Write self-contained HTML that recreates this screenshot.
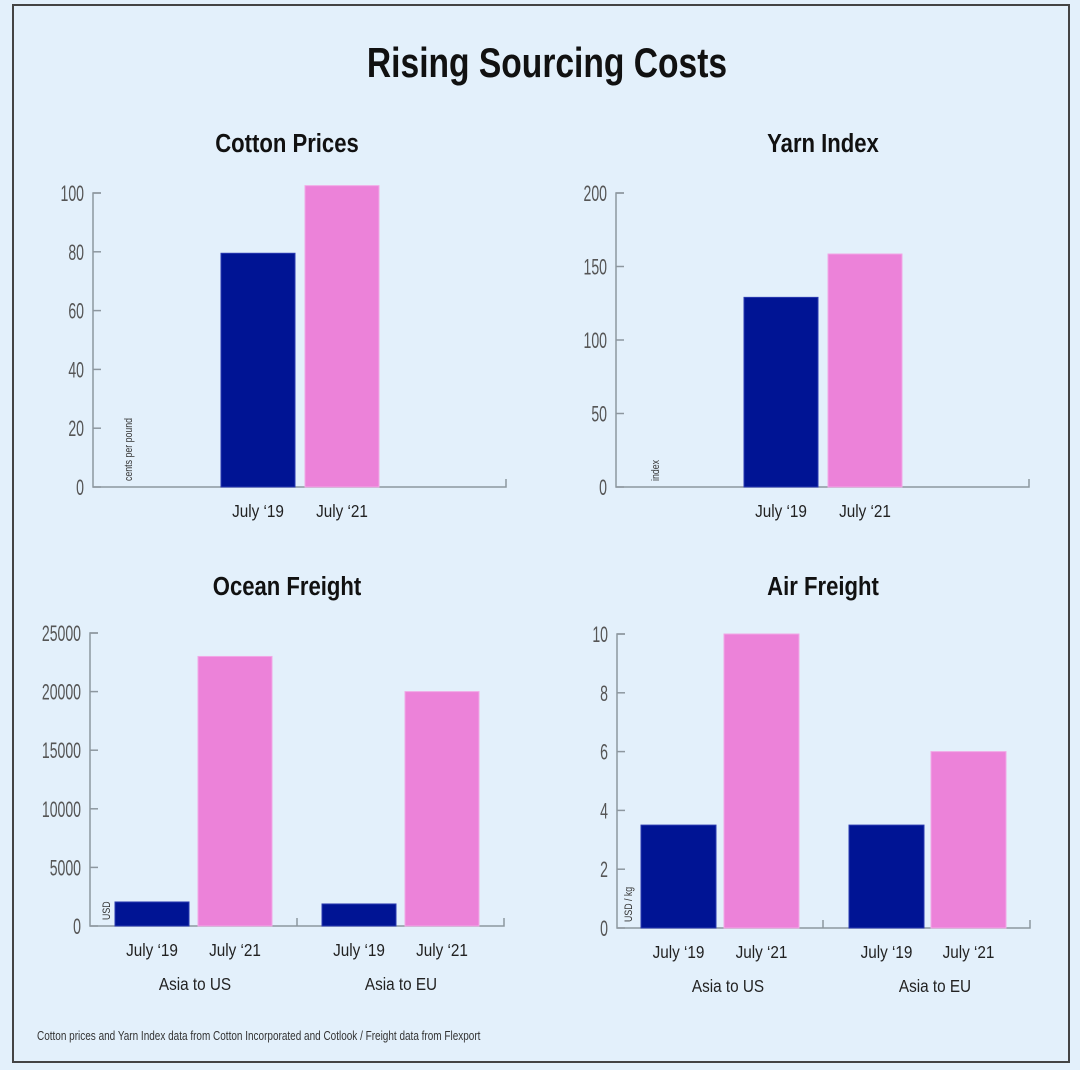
<!DOCTYPE html>
<html><head><meta charset="utf-8"><style>
html,body{margin:0;padding:0;background:#e3f0fb;}
svg{display:block;font-family:"Liberation Sans Narrow","Liberation Sans",sans-serif;}
.tick{fill:#555;font-size:22px;}
.cat{fill:#222;font-size:18px;}
.ttl{fill:#111;font-size:26px;font-weight:bold;}
</style></head><body>
<svg id="svg" width="1080" height="1070" viewBox="0 0 1080 1070" xmlns="http://www.w3.org/2000/svg">
<rect x="0" y="0" width="1080" height="1070" fill="#e3f0fb"/>
<rect x="13" y="5" width="1056" height="1057" fill="#e3f0fb" stroke="#444" stroke-width="2"/>
<text transform="translate(547,77) scale(0.8,1)" text-anchor="middle" font-size="42" font-weight="bold" fill="#111">Rising Sourcing Costs</text>
<text transform="translate(37,1040) scale(0.8,1)" font-size="12.5" fill="#333">Cotton prices and Yarn Index data from Cotton Incorporated and Cotlook / Freight data from Flexport</text>
</svg>
<script>
const cottonCats=["July ‘19","July ‘21"];
const cottonVals=[79.5,102.5];
const cottonTicks=[0,20,40,60,80,100];
const yarnCats=["July ‘19","July ‘21"];
const yarnVals=[129,158.5];
const yarnTicks=[0,50,100,150,200];
const groups=["Asia to US","Asia to EU"];
const periodCats=["July ‘19","July ‘21"];
const oceanJul19=[2050,1880];
const oceanJul21=[23000,20000];
const oceanTicks=[0,5000,10000,15000,20000,25000];
const airJul19=[3.5,3.5];
const airJul21=[10,6];
const airTicks=[0,2,4,6,8,10];

const svg=document.getElementById('svg');
const NS='http://www.w3.org/2000/svg';
function mk(tag,attrs,txt){const e=document.createElementNS(NS,tag);for(const k in attrs)e.setAttribute(k,attrs[k]);if(txt!=null)e.textContent=txt;svg.appendChild(e);return e;}
function txt(x,y,s,attrs,t){attrs.transform=`translate(${x},${y}) scale(${s},1)`;return mk('text',attrs,t);}
const NAVY='#001494',PINK='#ec82d9',AX='#8d979f';

function chart(o){
  const ys=v=>o.y0-(v/o.max)*(o.y0-o.yTop);
  let t=txt(o.titleX,o.titleY,0.85,{'text-anchor':'middle',class:'ttl'},o.title);
  
  
  let a=mk('path',{d:`M${o.x0+8},${o.yTop} H${o.x0} V${o.y0} H${o.xEnd} V${o.y0-8}`+(o.mid?` M${o.mid},${o.y0} V${o.y0-8}`:''),stroke:AX,'stroke-width':1.5,fill:'none'});
  
  
  o.ticks.forEach(v=>{
    const y=ys(v);
    let l=mk('line',{x1:o.x0,x2:o.x0+8,y1:y,y2:y,stroke:AX,'stroke-width':1.5});
    
    
    let tx=txt(o.x0-9,y+8,0.64,{'text-anchor':'end',class:'tick'},String(v));
    
    
  });
  let u=mk('text',{transform:`translate(${o.unitX},${o.y0-6}) rotate(-90) scale(0.8,1)`,'font-size':11,fill:'#333'},o.unit);
  
  
  o.bars.forEach(b=>{
    const y=ys(b.v);
    let r=mk('rect',{x:b.x,y:y,width:o.bw,height:o.y0-y,fill:b.c,stroke:b.c==NAVY?'#2a3ab0':'#f2a8e6','stroke-width':1});
    
    
    let l=txt(b.x+o.bw/2,o.y0+30,0.85,{'text-anchor':'middle',class:'cat'},b.label);
    
    
  });
  (o.groupLabels||[]).forEach(g=>{
    let l=txt(g.x,o.y0+64,0.85,{'text-anchor':'middle',class:'cat'},g.t);
    
    
  });
}
chart({key:'cotton',title:'Cotton Prices',titleX:287,titleY:152,x0:93,xEnd:506,y0:487,yTop:193,max:100,ticks:cottonTicks,unit:'cents per pound',unitX:132,bw:74,
  bars:[{x:221,v:cottonVals[0],c:NAVY,name:'july-19',label:cottonCats[0]},{x:305,v:cottonVals[1],c:PINK,name:'july-21',label:cottonCats[1]}]});
chart({key:'yarn',title:'Yarn Index',titleX:823,titleY:152,x0:616,xEnd:1029,y0:487,yTop:193,max:200,ticks:yarnTicks,unit:'index',unitX:659,bw:74,
  bars:[{x:744,v:yarnVals[0],c:NAVY,name:'july-19',label:yarnCats[0]},{x:828,v:yarnVals[1],c:PINK,name:'july-21',label:yarnCats[1]}]});
chart({key:'ocean',title:'Ocean Freight',titleX:287,titleY:595,x0:90,xEnd:504,mid:297,y0:926,yTop:633,max:25000,ticks:oceanTicks,unit:'USD',unitX:110,bw:74,
  bars:[{x:115,v:oceanJul19[0],c:NAVY,name:'us-july-19',label:periodCats[0]},{x:198,v:oceanJul21[0],c:PINK,name:'us-july-21',label:periodCats[1]},
        {x:322,v:oceanJul19[1],c:NAVY,name:'eu-july-19',label:periodCats[0]},{x:405,v:oceanJul21[1],c:PINK,name:'eu-july-21',label:periodCats[1]}],
  groupLabels:[{x:195,t:groups[0]},{x:401,t:groups[1]}]});
chart({key:'air',title:'Air Freight',titleX:823,titleY:595,x0:617,xEnd:1030,mid:823,y0:928,yTop:634,max:10,ticks:airTicks,unit:'USD / kg',unitX:632,bw:75,
  bars:[{x:641,v:airJul19[0],c:NAVY,name:'us-july-19',label:periodCats[0]},{x:724,v:airJul21[0],c:PINK,name:'us-july-21',label:periodCats[1]},
        {x:849,v:airJul19[1],c:NAVY,name:'eu-july-19',label:periodCats[0]},{x:931,v:airJul21[1],c:PINK,name:'eu-july-21',label:periodCats[1]}],
  groupLabels:[{x:728,t:groups[0]},{x:935,t:groups[1]}]});
</script>
</body></html>
